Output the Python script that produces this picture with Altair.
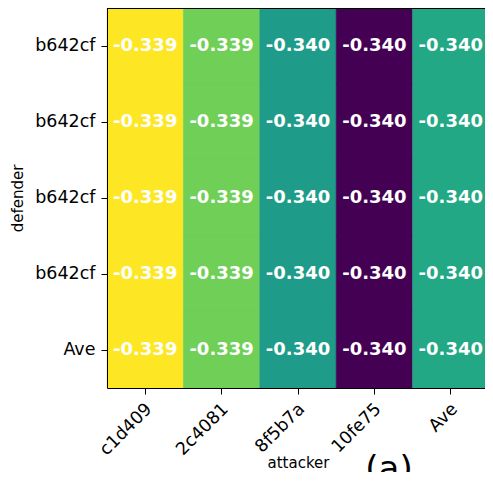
import altair as alt
import pandas as pd

attackers = ["c1d409", "2c4081", "8f5b7a", "10fe75", "Ave"]
defenders = ["b642cf", "b642cf", "b642cf", "b642cf", "Ave"]
values = [
    [-0.33910, -0.33936, -0.33964, -0.34030, -0.33958],
    [-0.33910, -0.33936, -0.33964, -0.34030, -0.33958],
    [-0.33910, -0.33936, -0.33964, -0.34030, -0.33958],
    [-0.33910, -0.33936, -0.33964, -0.34030, -0.33958],
    [-0.33910, -0.33936, -0.33964, -0.34030, -0.33958],
]
panel_tag = ["(a)"]

rows = []
for i, d in enumerate(defenders):
    for j, a in enumerate(attackers):
        v = values[i][j]
        rows.append({"row": i, "defender": d, "attacker": a,
                     "value": v, "label": f"{v:.3f}"})
df = pd.DataFrame(rows)

label_expr = "[" + ",".join(f"'{d}'" for d in defenders) + "][datum.value]"

FONT = "DejaVu Sans"
PLOT_W = 382   # full heat-map width (right edge is cropped by the page)
VIEW_W = 378
VIEW_H = 380

color_scale = alt.Scale(scheme="viridis", zero=False)

x_enc = alt.X(
    "attacker:N", sort=attackers, title="attacker",
    scale=alt.Scale(range=[0, PLOT_W], paddingInner=0, paddingOuter=0),
    axis=alt.Axis(labelAngle=315, labelAlign="right", labelBaseline="middle",
                  labelPadding=12, labelOffset=4, titlePadding=-3),
)
y_enc = alt.Y(
    "row:O", title="defender",
    scale=alt.Scale(paddingInner=0, paddingOuter=0),
    axis=alt.Axis(labelExpr=label_expr, labelPadding=6, titlePadding=9),
)

base = alt.Chart(df)
heat = base.mark_rect(strokeWidth=0.6).encode(
    x=x_enc, y=y_enc,
    color=alt.Color("value:Q", scale=color_scale, legend=None),
    stroke=alt.Stroke("value:Q", scale=color_scale, legend=None),
)
txt = base.mark_text(font=FONT, fontSize=18, fontWeight="bold", color="white").encode(
    x=alt.X("attacker:N", sort=attackers),
    y=alt.Y("row:O"),
    text="label:N",
)
top_border = alt.Chart(pd.DataFrame({"t": [0]})).mark_rule(color="black", strokeWidth=1).encode(
    x=alt.value(0), x2=alt.value(PLOT_W), y=alt.value(0.5)
)
tag = alt.Chart(pd.DataFrame({"t": panel_tag})).mark_text(
    font=FONT, fontSize=34, color="black", baseline="alphabetic", align="center"
).encode(text="t:N", x=alt.value(282), y=alt.value(472))

chart = alt.layer(heat, txt, top_border, tag).properties(
    width=VIEW_W, height=VIEW_H,
    autosize=alt.AutoSizeParams(type="none"),
    padding={"left": 99, "top": 0, "right": 0, "bottom": 84},
).configure_view(stroke=None).configure_axis(
    labelFont=FONT, labelFontSize=17.5, labelColor="black",
    titleFont=FONT, titleFontSize=15, titleFontWeight="normal", titleColor="black",
    tickColor="black", tickSize=6, domainColor="black", domainWidth=1, grid=False,
)

chart.save("out.html", embed_options={"renderer": "svg", "actions": False})
